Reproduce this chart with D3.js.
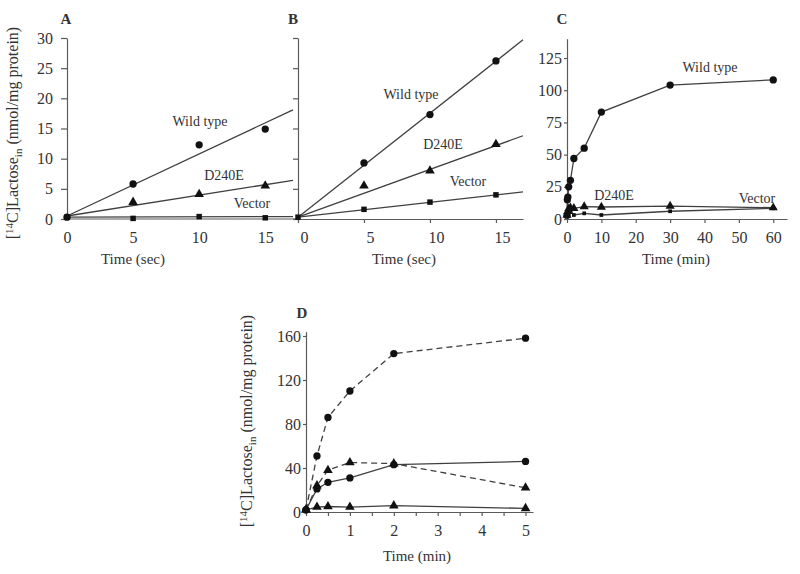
<!DOCTYPE html>
<html><head><meta charset="utf-8">
<script src="https://cdn.jsdelivr.net/npm/d3@7"></script>
<style>
body{margin:0;background:#fff}
text{font-family:"Liberation Serif","Times New Roman",serif;fill:#333}
</style>
</head><body>
<svg id="c" width="800" height="574"></svg>
<script>
// ---------- data ----------
// Panels A & B: time in seconds
const timeSec = [0, 5, 10, 15];
const aWild   = [0.3, 5.8, 12.3, 14.9];
const aD240E  = [0.3, 2.8, 4.1, 5.5];
const aVector = [0.3, 0.1, 0.4, 0.2];
const fitTimeA   = [0, 17.1];
const aWildFit   = [0.5, 18.1];
const aD240EFit  = [0.5, 6.4];
const aVectorFit = [0.3, 0.4];

const bWild   = [0.3, 9.3, 17.3, 26.2];
const bD240E  = [0.3, 5.5, 8.0, 12.4];
const bVector = [0.3, 1.6, 2.8, 4.0];
const fitTimeB   = [0, 17.05];
const bWildFit   = [0.3, 29.7];
const bD240EFit  = [0.3, 13.8];
const bVectorFit = [0.3, 4.5];

// Panel C: time in minutes
const cWildTime = [0, 0.1, 0.25, 0.5, 1, 2, 5, 10, 30, 60];
const cWild     = [3, 15, 17, 25, 30, 47, 55, 83, 104, 108];
const cTime     = [0, 0.25, 0.5, 1, 2, 5, 10, 30, 60];
const cD240E    = [3, 6, 8, 8.8, 8.3, 9.6, 9.3, 10, 8.8];
const cVector   = [2, 4, 5, 6.5, 3.1, 4.4, 3.1, 6, 8.3];

// Panel D: time in minutes
const dTime        = [0, 0.25, 0.5, 1, 2, 5];
const dCircDashed  = [2, 51, 86, 110, 144, 158];
const dTriDashed   = [2, 24, 38, 45, 44, 22];
const dCircSolid   = [2, 21, 27, 31, 43, 46];
const dTriSolid    = [2, 4.5, 5, 4.5, 5.8, 3.3];

// tick values
const ticksAB_y = [0, 5, 10, 15, 20, 25, 30];
const ticksAB_x = [0, 5, 10, 15];
const ticksC_y = [0, 25, 50, 75, 100, 125];
const ticksC_x = [0, 10, 20, 30, 40, 50, 60];
const ticksD_y = [0, 40, 80, 120, 160];
const ticksD_x = [0, 0.5, 1, 1.5, 2, 2.5, 3, 3.5, 4, 4.5, 5];

// ---------- drawing ----------
const svg = d3.select('#c');
const LINE = '#404040', AXIS = '#5a5a5a';
const zip = (xs, ys) => xs.map((x, i) => [x, ys[i]]);

function styleAxis(g){
  g.select('.domain').attr('stroke', AXIS).attr('stroke-width', 1.2);
  g.selectAll('.tick line').attr('stroke', AXIS).attr('stroke-width', 1.2);
  g.selectAll('.tick text').style('font-family', '"Liberation Serif","Times New Roman",serif')
    .style('font-size', '16px').attr('fill', '#333');
}
function drawLine(x, y, pts, dashed){
  svg.append('path').datum(pts)
    .attr('d', d3.line().x(d => x(d[0])).y(d => y(d[1])))
    .attr('fill', 'none').attr('stroke', LINE).attr('stroke-width', 1.3)
    .attr('stroke-dasharray', dashed ? '6,4' : null);
}
function drawMarks(x, y, pts, type, size){
  svg.append('g').selectAll('path').data(pts).join('path')
    .attr('transform', d => `translate(${x(d[0])},${y(d[1])})`)
    .attr('d', d3.symbol().type(type).size(size))
    .attr('fill', '#111');
}
function label(x, y, txt, size, bold, anchor){
  svg.append('text').attr('x', x).attr('y', y).attr('text-anchor', anchor || 'middle')
    .style('font-size', (size || 14) + 'px').style('font-weight', bold ? 'bold' : 'normal').text(txt);
}
function yLabel(x, y){
  const t = svg.append('text').attr('transform', `translate(${x},${y}) rotate(-90)`)
    .attr('text-anchor', 'middle').style('font-size', '16px');
  t.append('tspan').text('[');
  t.append('tspan').attr('dy', -5).style('font-size', '11px').text('14');
  t.append('tspan').attr('dy', 5).text('C]Lactose');
  t.append('tspan').attr('dy', 4).style('font-size', '11px').text('in');
  t.append('tspan').attr('dy', -4).text(' (nmol/mg protein)');
}

// ----- Panel A -----
const yAB = d3.scaleLinear().domain([0, 30]).range([219, 38]);
const xA = d3.scaleLinear().domain([0, 17.1]).range([67, 293]);
svg.append('g').attr('transform', 'translate(67,0)')
  .call(d3.axisLeft(yAB).tickValues(ticksAB_y).tickSizeInner(6).tickSizeOuter(0).tickPadding(8)).call(styleAxis);
svg.append('line').attr('x1', 67).attr('x2', 298).attr('y1', 219).attr('y2', 219).attr('stroke', AXIS).attr('stroke-width', 1.2);
svg.append('g').attr('transform', 'translate(0,219)')
  .call(d3.axisBottom(xA).tickValues(ticksAB_x).tickSizeInner(0).tickSizeOuter(0).tickPadding(13)).call(styleAxis)
  .select('.domain').remove();
drawLine(xA, yAB, zip(fitTimeA, aWildFit));
drawLine(xA, yAB, zip(fitTimeA, aD240EFit));
drawLine(xA, yAB, zip(fitTimeA, aVectorFit));
drawMarks(xA, yAB, zip(timeSec, aWild), d3.symbolCircle, 42);
drawMarks(xA, yAB, zip(timeSec.slice(1), aD240E.slice(1)), d3.symbolTriangle, 40);
drawMarks(xA, yAB, zip(timeSec, aVector), d3.symbolSquare, 30);
label(200, 126, 'Wild type');
label(224, 180, 'D240E');
label(252, 208, 'Vector');
label(66, 24, 'A', 15, true);
label(133, 264, 'Time (sec)', 15);
yLabel(18, 133);

// ----- Panel B -----
const xB = d3.scaleLinear().domain([0, 17.05]).range([298, 523]);
svg.append('g').attr('transform', 'translate(298,0)')
  .call(d3.axisLeft(yAB).tickValues(ticksAB_y).tickSizeInner(5).tickSizeOuter(0).tickFormat('')).call(styleAxis);
svg.append('g').attr('transform', 'translate(0,219)')
  .call(d3.axisBottom(xB).tickValues(ticksAB_x).tickSizeInner(4).tickSizeOuter(0).tickPadding(9)).call(styleAxis)
  .call(g => g.selectAll('.tick text').attr('dx', 6));
drawLine(xB, yAB, zip(fitTimeB, bWildFit));
drawLine(xB, yAB, zip(fitTimeB, bD240EFit));
drawLine(xB, yAB, zip(fitTimeB, bVectorFit));
drawMarks(xB, yAB, zip(timeSec.slice(1), bWild.slice(1)), d3.symbolCircle, 42);
drawMarks(xB, yAB, zip(timeSec.slice(1), bD240E.slice(1)), d3.symbolTriangle, 40);
drawMarks(xB, yAB, zip(timeSec, bVector), d3.symbolSquare, 30);
label(411, 99, 'Wild type');
label(443, 149, 'D240E');
label(468, 186, 'Vector');
label(293, 24, 'B', 15, true);
label(404, 264, 'Time (sec)', 15);

// ----- Panel C -----
const xC = d3.scaleLinear().domain([0, 64]).range([567, 787]);
const yC = d3.scaleLinear().domain([0, 140]).range([219, 38.7]);
svg.append('g').attr('transform', 'translate(567,0)')
  .call(d3.axisLeft(yC).tickValues(ticksC_y).tickSizeInner(3).tickSizeOuter(0).tickPadding(2)).call(styleAxis);
svg.append('g').attr('transform', 'translate(0,219)')
  .call(d3.axisBottom(xC).tickValues(ticksC_x).tickSizeInner(4).tickSizeOuter(0).tickPadding(9)).call(styleAxis);
drawLine(xC, yC, zip(cWildTime, cWild));
drawLine(xC, yC, zip(cTime, cD240E));
drawLine(xC, yC, zip(cTime, cVector));
drawMarks(xC, yC, zip(cWildTime, cWild), d3.symbolCircle, 42);
drawMarks(xC, yC, zip(cTime, cD240E), d3.symbolTriangle, 36);
drawMarks(xC, yC, zip(cTime, cVector), d3.symbolSquare, 14);
label(710, 72, 'Wild type');
label(614, 200, 'D240E');
label(757, 203, 'Vector');
label(562, 24, 'C', 15, true);
label(676, 264, 'Time (min)', 15);

// ----- Panel D -----
const xD = d3.scaleLinear().domain([0, 5.17]).range([306, 533]);
const yD = d3.scaleLinear().domain([0, 164]).range([512, 331.6]);
svg.append('g').attr('transform', 'translate(306,0)')
  .call(d3.axisLeft(yD).tickValues(ticksD_y).tickSizeInner(3).tickSizeOuter(0).tickPadding(2)).call(styleAxis);
svg.append('g').attr('transform', 'translate(0,512)')
  .call(d3.axisBottom(xD).tickValues(ticksD_x).tickSizeInner(4).tickSizeOuter(0).tickPadding(9)
    .tickFormat(d => Number.isInteger(d) ? d : '')).call(styleAxis);
drawLine(xD, yD, zip(dTime, dCircDashed), true);
drawLine(xD, yD, zip(dTime, dTriDashed), true);
drawLine(xD, yD, zip(dTime, dCircSolid));
drawLine(xD, yD, zip(dTime, dTriSolid));
drawMarks(xD, yD, zip(dTime, dCircDashed), d3.symbolCircle, 42);
drawMarks(xD, yD, zip(dTime, dTriDashed), d3.symbolTriangle, 40);
drawMarks(xD, yD, zip(dTime, dCircSolid), d3.symbolCircle, 42);
drawMarks(xD, yD, zip(dTime, dTriSolid), d3.symbolTriangle, 40);
label(302, 318, 'D', 15, true);
label(417, 561, 'Time (min)', 15);
yLabel(252, 421);
</script>
</body></html>
